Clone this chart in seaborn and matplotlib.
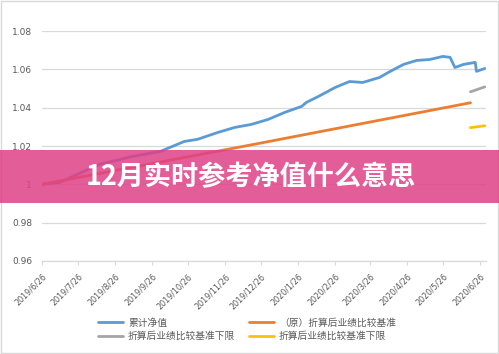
import numpy as np
import pandas as pd
import matplotlib
matplotlib.use("Agg")
import matplotlib.pyplot as plt
from matplotlib.patches import Rectangle
import seaborn as sns

# ---- data ----
START = pd.Timestamp("2019-06-26")

nav_days = [0, 15, 26, 48, 76, 99, 119, 130, 147, 161, 175, 189, 203, 217,
            221, 231, 245, 257, 268, 282, 291, 302, 313, 324, 335, 341, 345,
            352, 362, 363, 370]
nav_vals = [1.0000, 1.0010, 1.0042, 1.0104, 1.0146, 1.0172, 1.0224, 1.0235,
            1.0271, 1.0297, 1.0313, 1.0339, 1.0376, 1.0407, 1.0428, 1.0459,
            1.0506, 1.0537, 1.0532, 1.0558, 1.0590, 1.0626, 1.0647, 1.0652,
            1.0668, 1.0663, 1.0610, 1.0626, 1.0637, 1.0590, 1.0605]

bench_days = [0, 174, 358]
bench_vals = [1.0000, 1.0205, 1.0426]

gray_days = [358, 370]
gray_vals = [1.0483, 1.0509]

yellow_days = [358, 370]
yellow_vals = [1.0296, 1.0306]

labels = ["累计净值", "（原）折算后业绩比较基准",
          "折算后业绩比较基准下限", "折算后业绩比较基准下限"]
colors = ["#5B9BD5", "#ED7D31", "#A5A5A5", "#FFC000"]

tick_dates = ["2019-06-26", "2019-07-26", "2019-08-26", "2019-09-26",
              "2019-10-26", "2019-11-26", "2019-12-26", "2020-01-26",
              "2020-02-26", "2020-03-26", "2020-04-26", "2020-05-26",
              "2020-06-26"]
y_ticks = [0.96, 0.98, 1.00, 1.02, 1.04, 1.06, 1.08]
y_labels = ["0.96", "0.98", "1", "1.02", "1.04", "1.06", "1.08"]

title = "12月实时参考净值什么意思"


def frame(days, vals, name):
    return pd.DataFrame({"date": START + pd.to_timedelta(days, unit="D"),
                         "value": vals, "series": name})


def main():
    sns.set_style("white")
    plt.rcParams["font.family"] = ["Noto Sans CJK SC", "DejaVu Sans"]

    fig = plt.figure(figsize=(4.99, 3.54), dpi=100)
    ax = fig.add_axes([0.084, 0.263, 0.89, 0.649])

    series = [(nav_days, nav_vals), (bench_days, bench_vals),
              (gray_days, gray_vals), (yellow_days, yellow_vals)]
    handles = []
    for (d, v), lab, c in zip(series, labels, colors):
        df = frame(d, v, lab)
        sns.lineplot(data=df, x="date", y="value", ax=ax, color=c,
                     linewidth=2.0, label=lab, legend=False)
        handles.append(ax.lines[-1])

    ticks = pd.to_datetime(tick_dates)
    ax.set_ylim(0.96, 1.08)
    ax.set_xlim(START, pd.Timestamp("2020-07-01"))
    ax.set_yticks(y_ticks)
    ax.set_yticklabels(y_labels, family="DejaVu Sans", fontsize=6.5,
                       color="#595959")
    ax.set_xticks(ticks)
    ax.set_xticklabels([f"{d.year}/{d.month}/{d.day}" for d in ticks],
                       rotation=45, ha="right", rotation_mode="anchor",
                       family="DejaVu Sans", fontsize=5.8, color="#595959")
    ax.tick_params(axis="y", length=0, pad=7)
    ax.tick_params(axis="x", length=3, width=0.8, color="#D9D9D9", pad=5,
                   direction="out", bottom=True)
    ax.set_xlabel("")
    ax.set_ylabel("")
    ax.grid(axis="y", color="#D9D9D9", linewidth=0.9)
    ax.set_axisbelow(True)
    for s in ["top", "right", "left"]:
        ax.spines[s].set_visible(False)
    ax.spines["bottom"].set_color("#D9D9D9")
    ax.spines["bottom"].set_linewidth(0.9)

    # legend: col1 = blue, gray ; col2 = orange, yellow
    order = [0, 2, 1, 3]
    fig.legend([handles[i] for i in order], [labels[i] for i in order],
               loc="center", bbox_to_anchor=(0.495, 0.07), ncol=2,
               frameon=False, fontsize=7, labelcolor="#595959",
               handlelength=2.6, handletextpad=0.5, columnspacing=1.4,
               labelspacing=0.35)

    # chart border
    fig.patches.append(Rectangle((0.003, 0.004), 0.994, 0.992,
                                 transform=fig.transFigure, fill=False,
                                 edgecolor="#D9D9D9", linewidth=1.0))

    # pink banner with title
    fig.patches.append(Rectangle((0, 0.4266), 1, 0.1497,
                                 transform=fig.transFigure,
                                 facecolor="#DF4086", alpha=0.85,
                                 edgecolor="none", zorder=10))
    fig.text(0.503, 0.5, title, ha="center", va="center", color="white",
             fontsize=19.5, fontweight="bold", zorder=11)

    fig.savefig("out.png", dpi=100)
    plt.close(fig)


if __name__ == "__main__":
    main()
